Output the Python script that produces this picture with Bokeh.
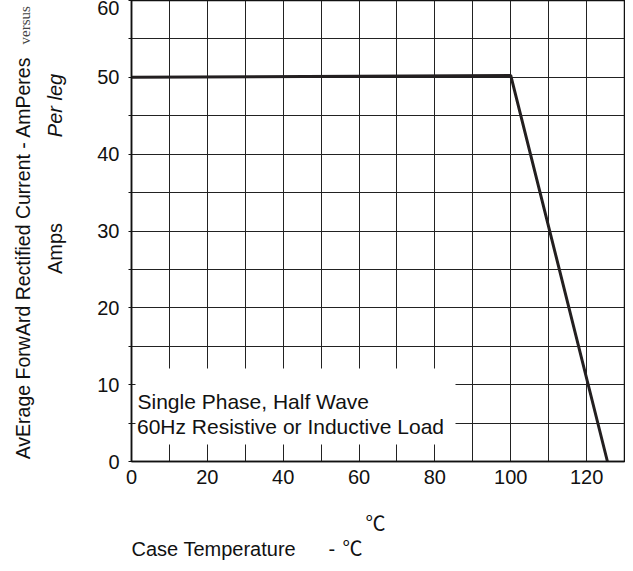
import math
from bokeh.plotting import figure
from bokeh.models import Range1d, FixedTicker, Label
from bokeh.layouts import row, column
from bokeh.embed import file_html
from bokeh.resources import INLINE

# ---- data ----
temp_c = [0, 100, 125.5]
current_a = [50, 50.25, 0]
x_major = [0, 20, 40, 60, 80, 100, 120]
x_minor = [10, 30, 50, 70, 90, 110]
y_major = [0, 10, 20, 30, 40, 50, 60]
y_minor = [5, 15, 25, 35, 45, 55]
box_lines = ["Single Phase, Half Wave", "60Hz Resistive or Inductive Load"]
y_title = "AvErage ForwArd Rectified Current  -  AmPeres"
y_title_tail = "versus"
y_sub1 = "Per leg"
y_sub2 = "Amps"
x_title = "Case Temperature"
x_dash = "-"
deg_c = "\u2103"

# ---- layout (page pixels) ----
LEFT_W = 91          # text strip on the left
MAIN_W = 534
TOP_H = 496          # main figure height
BOT_H = 67           # text strip below
ML, MR, MT, MB = 40, 1, 0, 35
X0, X1 = 0, 130
Y0, Y1 = 0, 60

fx0 = LEFT_W + ML
fx1 = LEFT_W + MAIN_W - MR
fy0 = MT
fy1 = TOP_H - MB
K = 0.35             # baseline correction (fraction of font size)

def dx(ix):
    return X0 + (ix - fx0) * (X1 - X0) / (fx1 - fx0)
def dy(iy):
    return Y0 + (fy1 - iy) * (Y1 - Y0) / (fy1 - fy0)

SANS = "Liberation Sans"
SERIF = "Liberation Serif"
CJK = "Noto Sans CJK SC"

# ---- main chart ----
p = figure(width=MAIN_W, height=TOP_H, x_range=Range1d(X0, X1), y_range=Range1d(Y0, Y1),
           output_backend="svg", toolbar_location=None,
           min_border_left=ML, min_border_right=MR, min_border_top=MT, min_border_bottom=MB)
p.background_fill_color = "white"
p.border_fill_color = "white"
p.outline_line_color = "#111111"
p.outline_line_width = 1.5

xt = FixedTicker(ticks=x_major, minor_ticks=x_minor)
yt = FixedTicker(ticks=y_major, minor_ticks=y_minor)
xa = p.xaxis[0]
ya = p.yaxis[0]
xa.ticker = xt
ya.ticker = yt
p.xgrid[0].ticker = xt
p.ygrid[0].ticker = yt

for g in (p.xgrid[0], p.ygrid[0]):
    g.grid_line_color = "#222222"
    g.grid_line_width = 1
    g.minor_grid_line_color = "#222222"
    g.minor_grid_line_width = 1

for ax in (xa, ya):
    ax.axis_line_color = "#111111"
    ax.axis_line_width = 1.5
    ax.major_tick_in = 0
    ax.minor_tick_in = 0
    ax.major_tick_line_color = "#111111"
    ax.minor_tick_line_color = "#111111"
    ax.major_label_text_font = SANS
    ax.major_label_text_font_size = "20px"
    ax.major_label_text_color = "#111111"

xa.major_tick_out = 0
xa.minor_tick_out = 0
xa.major_label_standoff = 8
ya.major_tick_out = 3
ya.minor_tick_out = 3
ya.major_label_standoff = 9

# white panel behind the note
p.quad(left=dx(135), right=dx(455), bottom=dy(444), top=dy(368),
       fill_color="white", line_color=None)

# derating curve
p.line(temp_c, current_a, line_width=3, line_color="#231f20")

def lab(fig, text, x, y, size, font=SANS, style="normal", align="left",
        angle=0.0, color="#111111"):
    fig.add_layout(Label(x=x, y=y, text=text, text_font=font,
                         text_font_size="%gpx" % size, text_font_style=style,
                         text_align=align, text_baseline="alphabetic",
                         angle=angle, text_color=color))

# note inside the chart (target baselines in page pixels)
lab(p, box_lines[0], dx(137), dy(408 - K * 21), 21)
lab(p, box_lines[1], dx(136.5), dy(433 - K * 21), 21)

# ---- text strips (coordinates = page pixels) ----
def strip(w, h, xr, yr):
    f = figure(width=w, height=h, x_range=xr, y_range=yr,
               x_axis_type=None, y_axis_type=None,
               output_backend="svg", toolbar_location=None,
               min_border_left=0, min_border_right=0, min_border_top=0, min_border_bottom=0)
    f.outline_line_color = None
    f.background_fill_color = "white"
    f.border_fill_color = "white"
    return f

# left strip: its frame is aligned with the chart frame (0..fy1)
lf = strip(LEFT_W, TOP_H, Range1d(0, LEFT_W), Range1d(fy1, 0))
R90 = math.pi / 2
lab(lf, y_title, 29.5 - K * 19.5, 252, 19.5, align="center", angle=R90)
lab(lf, y_title_tail, 30 - K * 15, 44, 15, font=SERIF, angle=R90, color="#444444")
lab(lf, y_sub1, 61 - K * 20, 105, 20, style="italic", align="center", angle=R90)
lab(lf, y_sub2, 61 - K * 20, 248, 20, align="center", angle=R90)

total_w = LEFT_W + MAIN_W
bf = strip(total_w, BOT_H, Range1d(0, total_w), Range1d(TOP_H + BOT_H, TOP_H))
lab(bf, deg_c, 365, 529 - K * 20, 20, font=CJK)
lab(bf, x_title, 131, 555 - K * 20, 20)
lab(bf, x_dash, 328, 555 - K * 20, 20)
lab(bf, deg_c, 342, 554 - K * 20, 20, font=CJK)

layout = column(row(lf, p, spacing=0), bf, spacing=0)
open("out.html", "w").write(file_html(layout, INLINE))
